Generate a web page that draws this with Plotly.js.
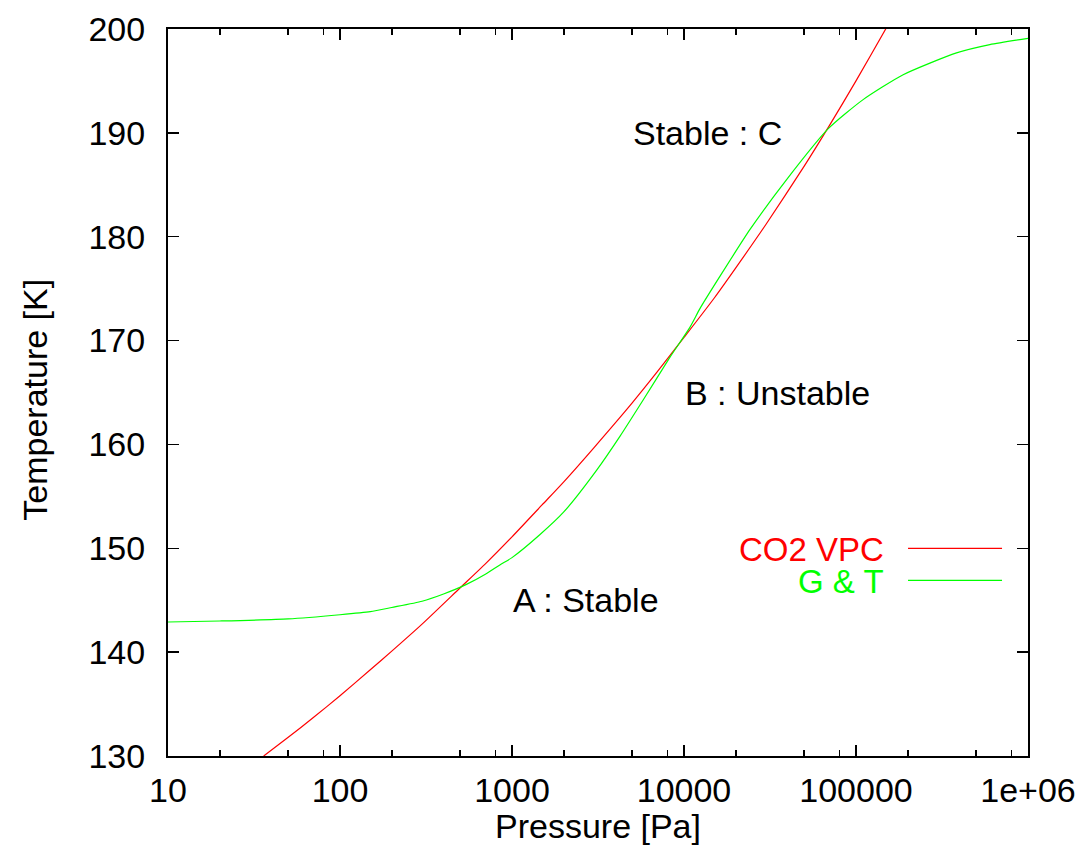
<!DOCTYPE html>
<html>
<head>
<meta charset="utf-8">
<script src="https://cdn.plot.ly/plotly-3.0.1.min.js"></script>
<style>html,body{margin:0;padding:0;background:#fff;}#chart{width:1080px;height:846px;}</style>
</head>
<body>
<div id="chart"></div>
<script>
// CO2 vapour pressure curve
const vpcPressure = [36, 50, 70, 100, 150, 200, 300, 500, 700, 1000, 1500, 2000, 3000, 5000, 7000, 10000, 15000, 20000, 30000, 50000, 70000, 100000, 150000, 155000];
const vpcTemp     = [130.0, 131.8, 133.7, 135.8, 138.3, 140.1, 142.7, 146.2, 148.5, 151.1, 154.2, 156.4, 159.7, 164.0, 167.0, 170.3, 174.1, 177.0, 181.2, 186.8, 190.7, 195.0, 200.1, 200.5];

// G & T curve
const gtPressure = [10, 20, 50, 100, 150, 200, 300, 400, 540, 700, 850, 1000, 1450, 2000, 3100, 4250, 5800, 8290, 10840, 12400, 16200, 24200, 39500, 69000, 110000, 188000, 384000, 600000, 1000000];
const gtTemp     = [142.9, 143.0, 143.2, 143.6, 143.9, 144.3, 144.9, 145.6, 146.5, 147.5, 148.4, 149.1, 151.3, 153.5, 157.5, 160.8, 164.3, 168.4, 171.3, 173.1, 176.2, 180.7, 185.5, 190.4, 193.2, 195.6, 197.7, 198.5, 199.1];

const xTickVals = [10, 100, 1000, 10000, 100000, 1000000];
const xTickText = ["10", "100", "1000", "10000", "100000", "1e+06"];
const xMinorVals = [20, 50, 80, 200, 500, 800, 2000, 5000, 8000, 20000, 50000, 80000, 200000, 500000, 800000];

const seriesNames = ["CO2 VPC", "G & T"];
const seriesColors = ["#ff0000", "#00ff00"];

const labels = [
  {x: 1000, y: 145, text: "A : Stable"},
  {x: 10000, y: 165, text: "B : Unstable"},
  {x: 5000, y: 190, text: "Stable : C"}
];

const xTitle = "Pressure [Pa]";
const yTitle = "Temperature [K]";

const FONT = "Liberation Sans, Arial, Helvetica, sans-serif";
const FS = 34;

const traces = [
  {x: vpcPressure, y: vpcTemp, mode: "lines", name: seriesNames[0], line: {color: seriesColors[0], width: 1.2, shape: "spline", smoothing: 0.6}, showlegend: false},
  {x: gtPressure, y: gtTemp, mode: "lines", name: seriesNames[1], line: {color: seriesColors[1], width: 1.2, shape: "spline", smoothing: 0.6}, showlegend: false}
];

const annotations = labels.map(l => ({
  x: Math.log10(l.x), y: l.y, xref: "x", yref: "y", text: l.text, showarrow: false,
  xanchor: "left", yanchor: "middle", font: {family: FONT, size: FS, color: "#000"}, borderpad: 0
}));

// axis titles
annotations.push({x: 0.5, y: -0.0963, xref: "paper", yref: "paper", text: xTitle, showarrow: false,
  xanchor: "center", yanchor: "middle", font: {family: FONT, size: FS, color: "#000"}, borderpad: 0});
annotations.push({x: -0.1547, y: 0.49, xref: "paper", yref: "paper", text: yTitle, showarrow: false, textangle: -90,
  xanchor: "center", yanchor: "middle", font: {family: FONT, size: FS, color: "#000"}, borderpad: 0});

// legend (gnuplot style: text right-aligned, line sample to the right)
const legY = [0.2847, 0.2407];
seriesNames.forEach((n, i) => {
  annotations.push({x: 0.8337, y: legY[i], xref: "paper", yref: "paper", text: n, showarrow: false,
    xanchor: "right", yanchor: "middle", font: {family: FONT, size: 33, color: seriesColors[i]}, borderpad: 0});
});
const shapes = seriesNames.map((n, i) => ({
  type: "line", xref: "paper", yref: "paper", x0: 0.8605, x1: 0.9698,
  y0: legY[i] + 0.001, y1: legY[i] + 0.001, line: {color: seriesColors[i], width: 1.2}
}));

const layout = {
  width: 1080, height: 846,
  margin: {l: 168, r: 52, t: 29, b: 90},
  paper_bgcolor: "#fff", plot_bgcolor: "#fff",
  showlegend: false,
  font: {family: FONT, size: FS, color: "#000"},
  xaxis: {
    type: "log", range: [1, 6],
    tickmode: "array", tickvals: xTickVals, ticktext: xTickText,
    ticks: "inside", ticklen: 11, tickwidth: 1.5, tickcolor: "#000",
    minor: {tickmode: "array", tickvals: xMinorVals, ticks: "inside", ticklen: 6, tickwidth: 1.5, tickcolor: "#000", showgrid: false},
    showline: true, linecolor: "#000", linewidth: 2, mirror: "ticks",
    showgrid: false, zeroline: false,
    tickfont: {family: FONT, size: FS, color: "#000"},
    ticklabelstandoff: 3
  },
  yaxis: {
    range: [130, 200], tickmode: "linear", tick0: 130, dtick: 10,
    ticks: "inside", ticklen: 11, tickwidth: 1.5, tickcolor: "#000",
    showline: true, linecolor: "#000", linewidth: 2, mirror: "ticks",
    showgrid: false, zeroline: false,
    tickfont: {family: FONT, size: FS, color: "#000"},
    ticklabelstandoff: 14
  },
  annotations: annotations,
  shapes: shapes
};

Plotly.newPlot("chart", traces, layout, {displayModeBar: false, staticPlot: true});
</script>
</body>
</html>
